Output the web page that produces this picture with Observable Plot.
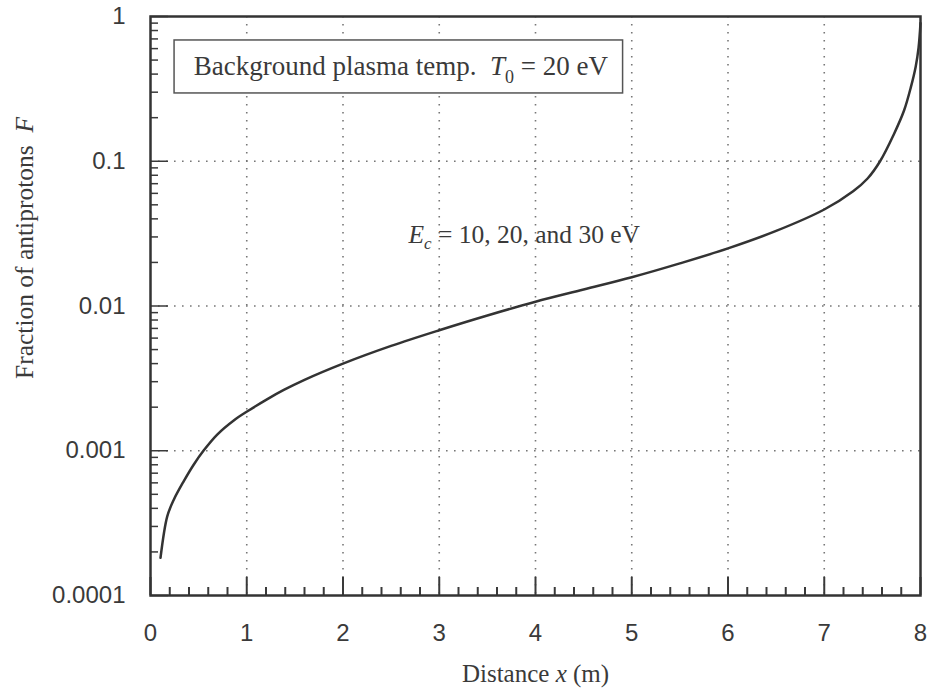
<!DOCTYPE html>
<html>
<head>
<meta charset="utf-8">
<script src="https://cdn.jsdelivr.net/npm/d3@7"></script>
<script src="https://cdn.jsdelivr.net/npm/@observablehq/plot@0.6"></script>
<style>
  html, body { margin: 0; padding: 0; background: white; }
</style>
</head>
<body>
<div id="chart"></div>
<script>
// Distance x (m)
const distance = [0.104, 0.174, 0.242, 0.346, 0.45, 0.554, 0.693, 0.865, 1.02, 1.21, 1.385, 1.6, 2.0, 2.5, 3.0, 3.5, 4.0, 4.5, 5.0, 5.5, 6.0, 6.5, 7.0, 7.3, 7.45, 7.58, 7.72, 7.83, 7.9, 7.95, 7.98, 8.0];
// Fraction of antiprotons F
const fraction = [1.82e-4, 3.52e-4, 4.59e-4, 6.17e-4, 8.04e-4, 1.007e-3, 1.294e-3, 1.62e-3, 1.897e-3, 2.265e-3, 2.63e-3, 3.09e-3, 4.0e-3, 5.3e-3, 6.8e-3, 8.6e-3, 0.0107, 0.013, 0.0158, 0.0197, 0.025, 0.033, 0.0464, 0.062, 0.076, 0.1, 0.152, 0.225, 0.325, 0.45, 0.61, 0.9];

const xTicks = [0, 1, 2, 3, 4, 5, 6, 7, 8];
const xTickLabels = ["0", "1", "2", "3", "4", "5", "6", "7", "8"];
const yTicks = [0.0001, 0.001, 0.01, 0.1, 1];
const yTickLabels = ["0.0001", "0.001", "0.01", "0.1", "1"];
const xGrid = [1, 2, 3, 4, 5, 6, 7];
const yGrid = [0.001, 0.01, 0.1];

const boxText = "Background plasma temp.  T0 = 20 eV";
const curveText = "Ec = 10, 20, and 30 eV";
const xTitle = "Distance x (m)";
const yTitle = "Fraction of antiprotons F";

const data = distance.map((x, i) => ({x, F: fraction[i]}));

const W = 929, H = 696;
const mL = 150, mR = 9, mT = 16, mB = 101;
const frameH = H - mT - mB, frameW = W - mL - mR;

const xMinor = d3.range(0, 8.0001, 0.2).map(v => +v.toFixed(2)).filter(v => !xTicks.includes(v));
const yMinor = [];
for (let e = -4; e < 0; e++) for (let k = 2; k <= 9; k++) yMinor.push(k * Math.pow(10, e));

const ink = "#3a3a3a";
const serif = "'Liberation Serif', 'Times New Roman', serif";
const sans = "'Liberation Sans', Arial, sans-serif";

const chart = Plot.plot({
  width: W, height: H,
  marginLeft: mL, marginRight: mR, marginTop: mT, marginBottom: mB,
  style: {background: "white", color: ink, fontFamily: sans},
  x: {domain: [0, 8], axis: null},
  y: {type: "log", domain: [0.0001, 1], axis: null},
  marks: [
    Plot.gridX(xGrid, {stroke: "#777", strokeOpacity: 1, strokeWidth: 1.6, strokeDasharray: "1.6,6.4"}),
    Plot.gridY(yGrid, {stroke: "#777", strokeOpacity: 1, strokeWidth: 1.6, strokeDasharray: "1.6,6.4"}),
    // annotation box
    Plot.rect([{x1: 0.25, x2: 4.91, y1: 0.294, y2: 0.683}], {x1: "x1", x2: "x2", y1: "y1", y2: "y2", fill: "white", stroke: "#555", strokeWidth: 1.5}),
    Plot.text([boxText], {x: 0.45, y: 0.45, text: d => d, textAnchor: "start", fontFamily: serif, fontSize: 27, fill: ink, className: "boxtext"}),
    Plot.text([curveText], {x: 2.68, y: 0.031, text: d => d, textAnchor: "start", fontFamily: serif, fontSize: 25.5, fill: ink, className: "curvetext"}),
    // ticks inside
    Plot.tickX(xMinor, {x: d => d, insetTop: frameH - 8, stroke: ink, strokeWidth: 2}),
    Plot.tickX(xTicks, {x: d => d, insetTop: frameH - 18, stroke: ink, strokeWidth: 2}),
    Plot.tickY(yMinor, {y: d => d, insetRight: frameW - 8, stroke: ink, strokeWidth: 1.5}),
    Plot.tickY(yTicks, {y: d => d, insetRight: frameW - 18, stroke: ink, strokeWidth: 1.5}),
    Plot.line(data, {x: "x", y: "F", curve: "catmull-rom", stroke: "#333", strokeWidth: 2.5}),
    Plot.frame({stroke: "#333", strokeWidth: 2.5}),
    // tick labels
    Plot.text(xTicks, {x: d => d, text: (d, i) => xTickLabels[i], frameAnchor: "bottom", lineAnchor: "top", dy: 28, fontSize: 24, fontFamily: sans, fill: ink}),
    Plot.text(yTicks, {y: d => d, text: (d, i) => yTickLabels[i], frameAnchor: "left", textAnchor: "end", dx: -25, fontSize: 24, fontFamily: sans, fill: ink}),
    // axis titles
    Plot.text([xTitle], {frameAnchor: "bottom", dy: 86, text: d => d, fontFamily: serif, fontSize: 25, fill: ink, className: "xtitle"}),
    Plot.text([yTitle], {frameAnchor: "left", textAnchor: "middle", dx: -126, dy: -58, rotate: -90, text: d => d, fontFamily: serif, fontSize: 25.5, fill: ink, className: "ytitle"})
  ]
});

document.getElementById("chart").appendChild(chart);

// rich text: italics and subscripts
function rich(cls, html) {
  const t = chart.querySelector(`g.${cls} text`);
  if (t) t.innerHTML = html;
}
rich("boxtext", `Background plasma temp.&#160; <tspan font-style="italic">T</tspan><tspan font-size="18" dy="8">0</tspan><tspan dy="-8"> = 20 eV</tspan>`);
rich("curvetext", `<tspan font-style="italic">E</tspan><tspan font-size="17" font-style="italic" dy="6">c</tspan><tspan dy="-6"> = 10, 20, and 30 eV</tspan>`);
rich("xtitle", `Distance <tspan font-style="italic">x</tspan> (m)`);
rich("ytitle", `Fraction of antiprotons&#160; <tspan font-style="italic">F</tspan>`);
</script>
</body>
</html>
